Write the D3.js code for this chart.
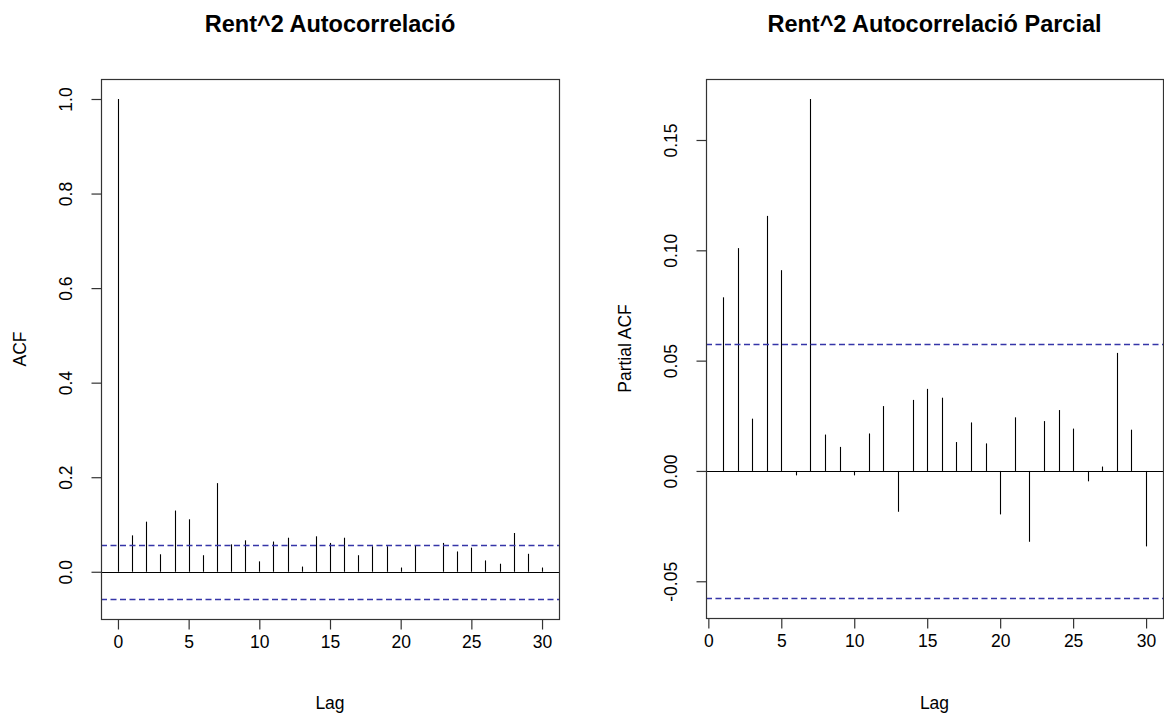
<!DOCTYPE html>
<html>
<head>
<meta charset="utf-8">
<script src="https://cdn.jsdelivr.net/npm/d3@7"></script>
<style>
  body { margin: 0; background: #fff; }
  text { font-family: "Liberation Sans", Arial, sans-serif; fill: #000; }
</style>
</head>
<body>
<script>
// data
var acfLags = d3.range(0, 31);
var acfValues = [1.0, 0.077, 0.106, 0.037, 0.1295, 0.111, 0.035, 0.1875, 0.058, 0.0665,
                 0.022, 0.064, 0.072, 0.011, 0.075, 0.061, 0.072, 0.035, 0.054, 0.054,
                 0.009, 0.056, 0.0, 0.061, 0.043, 0.051, 0.024, 0.017, 0.082, 0.038, 0.009];
var pacfLags = d3.range(1, 31);
var pacfValues = [0.0787, 0.101, 0.0237, 0.1156, 0.091, -0.002, 0.1686, 0.0165, 0.0109, -0.002,
                  0.017, 0.0294, -0.0185, 0.0322, 0.0372, 0.0332, 0.0131, 0.022, 0.0125, -0.0197,
                  0.0243, -0.0321, 0.0226, 0.0276, 0.0192, -0.0047, 0.002, 0.0535, 0.0187, -0.0342];
var confLimit = 0.0576;
var xTicks = [0, 5, 10, 15, 20, 25, 30];
var acfTicks = [0.0, 0.2, 0.4, 0.6, 0.8, 1.0];
var pacfTicks = [-0.05, 0.00, 0.05, 0.10, 0.15];
var titles = ["Rent^2 Autocorrelació", "Rent^2 Autocorrelació Parcial"];
var yLabels = ["ACF", "Partial ACF"];

var svg = d3.select("body").append("svg")
    .attr("width", 1164)
    .attr("height", 713);

// R style 4% padding of a range
function pad(ext) {
    var d = (ext[1] - ext[0]) * 0.04;
    return [ext[0] - d, ext[1] + d];
}

function drawPanel(box, lags, vals, yTicks, yFmt, title, ylab) {
    var x = d3.scaleLinear().domain(pad(d3.extent(lags))).range([box.left, box.right]);
    var yExt = d3.extent(vals.concat([confLimit, -confLimit]));
    var y = d3.scaleLinear().domain(pad(yExt)).range([box.bottom, box.top]);

    var g = svg.append("g");

    // zero line
    g.append("line")
        .attr("x1", box.left).attr("x2", box.right)
        .attr("y1", Math.round(y(0)) + 0.5).attr("y2", Math.round(y(0)) + 0.5)
        .attr("stroke", "#000").attr("stroke-width", 1.1);

    // spikes
    g.selectAll(".spike").data(lags).enter().append("line")
        .attr("class", "spike")
        .attr("x1", function(d) { return Math.round(x(d)) + 0.5; })
        .attr("x2", function(d) { return Math.round(x(d)) + 0.5; })
        .attr("y1", y(0))
        .attr("y2", function(d, i) { return y(vals[i]); })
        .attr("stroke", "#000").attr("stroke-width", 1.1);

    // confidence lines, drawn over the spikes
    [confLimit, -confLimit].forEach(function(c) {
        g.append("line")
            .attr("x1", box.left).attr("x2", box.right)
            .attr("y1", Math.round(y(c)) + 0.5).attr("y2", Math.round(y(c)) + 0.5)
            .attr("stroke", "#3535a8").attr("stroke-width", 1.3)
            .attr("stroke-dasharray", "6,3.5");
    });

    // box
    g.append("rect")
        .attr("x", box.left + 0.5).attr("y", box.top + 0.5)
        .attr("width", box.right - box.left).attr("height", box.bottom - box.top)
        .attr("fill", "none").attr("stroke", "#333").attr("stroke-width", 1.2);

    // x axis
    var xAxis = d3.axisBottom(x).tickValues(xTicks).tickSize(10).tickPadding(6)
        .tickFormat(d3.format("d"));
    var xa = g.append("g").attr("transform", "translate(0," + (box.bottom + 0.5) + ")").call(xAxis);
    xa.select(".domain").remove();
    xa.selectAll("line").attr("stroke", "#333").attr("stroke-width", 1.2);
    xa.selectAll("text").attr("font-size", 17.5).attr("font-family", "Liberation Sans, Arial, sans-serif")
        .attr("fill", "#222");

    // y axis, labels rotated like R
    var yAxis = d3.axisLeft(y).tickValues(yTicks).tickSize(10).tickFormat(yFmt);
    var ya = g.append("g").attr("transform", "translate(" + (box.left + 0.5) + ",0)").call(yAxis);
    ya.select(".domain").remove();
    ya.selectAll("line").attr("stroke", "#333").attr("stroke-width", 1.2);
    ya.selectAll("text")
        .attr("font-size", 17.5).attr("font-family", "Liberation Sans, Arial, sans-serif")
        .attr("fill", "#222")
        .attr("x", null).attr("dy", null)
        .attr("text-anchor", "middle")
        .attr("transform", "translate(-30,0) rotate(-90)");

    // title
    svg.append("text")
        .attr("x", (box.left + box.right) / 2).attr("y", 32)
        .attr("text-anchor", "middle")
        .attr("font-size", 23.5).attr("font-weight", "bold")
        .text(title);

    // axis titles
    svg.append("text")
        .attr("x", (box.left + box.right) / 2).attr("y", 709)
        .attr("text-anchor", "middle")
        .attr("font-size", 17.5).attr("fill", "#222")
        .text("Lag");

    svg.append("text")
        .attr("transform", "translate(" + (box.left - 75) + "," + ((box.top + box.bottom) / 2) + ") rotate(-90)")
        .attr("text-anchor", "middle")
        .attr("font-size", 17.5).attr("fill", "#222")
        .text(ylab);
}

drawPanel({left: 101, right: 559, top: 79, bottom: 619}, acfLags, acfValues,
          acfTicks, d3.format(".1f"), titles[0], yLabels[0]);
drawPanel({left: 706, right: 1163, top: 79, bottom: 618}, pacfLags, pacfValues,
          pacfTicks, function(d) { return d3.format(".2f")(d).replace("−", "-"); }, titles[1], yLabels[1]);
</script>
</body>
</html>
